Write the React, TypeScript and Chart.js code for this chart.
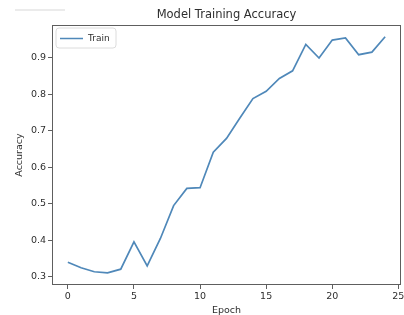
import React, { useEffect, useRef } from "react";
import { Chart, registerables } from "chart.js";

Chart.register(...registerables);

const chartTitle = "Model Training Accuracy";
const xAxisLabel = "Epoch";
const yAxisLabel = "Accuracy";
const seriesName = "Train";

const epochs = [0, 1, 2, 3, 4, 5, 6, 7, 8, 9, 10, 11, 12, 13, 14, 15, 16, 17, 18, 19, 20, 21, 22, 23, 24];
const accuracy = [
  0.340, 0.325, 0.314, 0.311, 0.321, 0.396, 0.330, 0.405, 0.495, 0.542,
  0.544, 0.641, 0.679, 0.734, 0.788, 0.808, 0.843, 0.864, 0.936, 0.899,
  0.948, 0.954, 0.908, 0.915, 0.957,
];
const xTicks = [0, 5, 10, 15, 20, 25];
const yTicks = [0.3, 0.4, 0.5, 0.6, 0.7, 0.8, 0.9];

const W = 404;
const H = 315;
const PLOT = { left: 52, right: 401, top: 25, bottom: 285 };
const FONT = "'DejaVu Sans', sans-serif";
const LINE_COLOR = "#4f88b9";
const TEXT_COLOR = "#2e2e2e";
const AXIS_COLOR = "#5e5e5e";

const decorPlugin = {
  id: "decor",
  afterDatasetsDraw(chart: any) {
    const { ctx, chartArea } = chart;
    ctx.save();
    // frame (all four spines)
    ctx.strokeStyle = AXIS_COLOR;
    ctx.lineWidth = 1;
    ctx.strokeRect(chartArea.left + 0.5, chartArea.top + 0.5, chartArea.right - chartArea.left - 1, chartArea.bottom - chartArea.top - 1);

    // title
    ctx.fillStyle = TEXT_COLOR;
    ctx.font = `11.5px ${FONT}`;
    ctx.textAlign = "center";
    ctx.textBaseline = "middle";
    ctx.fillText(chartTitle, (chartArea.left + chartArea.right) / 2, chartArea.top - 10);

    // faint artifact line at top-left
    ctx.strokeStyle = "#e4e4e4";
    ctx.lineWidth = 1.5;
    ctx.beginPath();
    ctx.moveTo(15, 10);
    ctx.lineTo(65, 10);
    ctx.stroke();

    // legend box
    const lx = chartArea.left + 4;
    const ly = chartArea.top + 3;
    const lw = 60;
    const lh = 20;
    const r = 3;
    ctx.fillStyle = "rgba(255,255,255,0.85)";
    ctx.strokeStyle = "#dcdcdc";
    ctx.lineWidth = 1;
    ctx.beginPath();
    ctx.moveTo(lx + r, ly);
    ctx.lineTo(lx + lw - r, ly);
    ctx.quadraticCurveTo(lx + lw, ly, lx + lw, ly + r);
    ctx.lineTo(lx + lw, ly + lh - r);
    ctx.quadraticCurveTo(lx + lw, ly + lh, lx + lw - r, ly + lh);
    ctx.lineTo(lx + r, ly + lh);
    ctx.quadraticCurveTo(lx, ly + lh, lx, ly + lh - r);
    ctx.lineTo(lx, ly + r);
    ctx.quadraticCurveTo(lx, ly, lx + r, ly);
    ctx.closePath();
    ctx.fill();
    ctx.stroke();

    ctx.strokeStyle = LINE_COLOR;
    ctx.lineWidth = 1.5;
    ctx.beginPath();
    ctx.moveTo(lx + 4, ly + lh / 2 + 0.5);
    ctx.lineTo(lx + 27, ly + lh / 2 + 0.5);
    ctx.stroke();

    ctx.fillStyle = TEXT_COLOR;
    ctx.font = `9px ${FONT}`;
    ctx.textAlign = "left";
    ctx.textBaseline = "middle";
    ctx.fillText(seriesName, lx + 32, ly + lh / 2 + 0.5);
    ctx.restore();
  },
};

export default function App() {
  const ref = useRef<HTMLCanvasElement | null>(null);

  useEffect(() => {
    document.body.style.margin = "0";
    const canvas = ref.current;
    if (!canvas) return;
    const padLeft = 14;
    const chart = new Chart(canvas, {
      type: "line",
      data: {
        datasets: [
          {
            label: seriesName,
            data: epochs.map((e, i) => ({ x: e, y: accuracy[i] })),
            borderColor: LINE_COLOR,
            backgroundColor: LINE_COLOR,
            borderWidth: 1.7,
            pointRadius: 0,
            tension: 0,
            fill: false,
          },
        ],
      },
      options: {
        responsive: false,
        animation: false,
        devicePixelRatio: 1,
        layout: { padding: { left: padLeft, top: PLOT.top, right: W - PLOT.right, bottom: 0 } },
        plugins: {
          legend: { display: false },
          title: { display: false },
          tooltip: { enabled: false },
        },
        scales: {
          x: {
            type: "linear",
            min: -1.2,
            max: 25.2,
            border: { display: false },
            grid: { drawOnChartArea: false, drawTicks: true, tickLength: 4, color: AXIS_COLOR },
            ticks: { color: TEXT_COLOR, font: { family: FONT, size: 9.5 }, padding: 2, maxRotation: 0 },
            title: { display: true, text: xAxisLabel, color: TEXT_COLOR, font: { family: FONT, size: 9.5 }, padding: { top: 0, bottom: -1 } },
            afterBuildTicks: (scale: any) => {
              scale.ticks = xTicks.map((v) => ({ value: v }));
            },
            afterFit: (scale: any) => {
              scale.height = H - PLOT.bottom;
              scale.paddingLeft = 0;
              scale.paddingRight = 0;
            },
          },
          y: {
            type: "linear",
            min: 0.2777,
            max: 0.9893,
            border: { display: false },
            grid: { drawOnChartArea: false, drawTicks: true, tickLength: 4, color: AXIS_COLOR },
            ticks: {
              color: TEXT_COLOR,
              font: { family: FONT, size: 9.5 },
              padding: 2,
              callback: (v: any) => Number(v).toFixed(1),
            },
            title: { display: true, text: yAxisLabel, color: TEXT_COLOR, font: { family: FONT, size: 9.5 }, padding: { top: 0, bottom: 0 } },
            afterBuildTicks: (scale: any) => {
              scale.ticks = yTicks.map((v) => ({ value: v }));
            },
            afterFit: (scale: any) => {
              scale.width = PLOT.left - padLeft;
              scale.paddingTop = 0;
              scale.paddingBottom = 0;
            },
          },
        },
      },
      plugins: [decorPlugin],
    });
    return () => chart.destroy();
  }, []);

  return (
    <div style={{ width: W, height: H, background: "#fff" }}>
      <canvas ref={ref} width={W} height={H} style={{ display: "block" }} />
    </div>
  );
}
